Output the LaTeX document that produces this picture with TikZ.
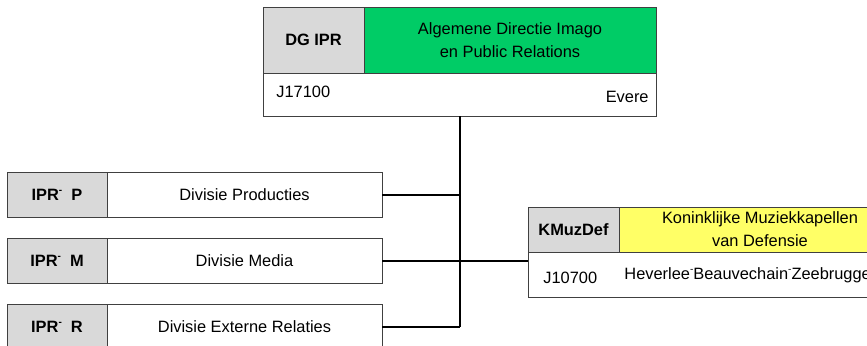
\documentclass[tikz,border=0pt]{standalone}
\usepackage{fontspec}
\setmainfont{Liberation Sans}
\usetikzlibrary{positioning}
\definecolor{cellgray}{RGB}{217,217,217}
\definecolor{dggreen}{RGB}{0,204,102}
\definecolor{kmyellow}{RGB}{255,255,102}
\newcommand{\updash}{\raisebox{0.8ex}{\tiny-}}

\begin{document}
\begin{tikzpicture}[x=0.5pt, y=-0.5pt,
  cell/.style={draw=black!75, line width=0.5pt, inner sep=0pt, outer sep=0pt, anchor=north west, align=center, font=\fontsize{8.2}{11.5}\selectfont},
  codecell/.style={cell, fill=cellgray, font=\fontsize{8.2}{11.5}\selectfont\bfseries},
  txt/.style={inner sep=0pt, font=\fontsize{8.2}{10}\selectfont},
  conn/.style={line width=1pt}]
\clip (0,0) rectangle (867,345);

% directie
\node[codecell, minimum width=50.5pt, minimum height=33pt] (dgcode) at (263,7) {DG IPR};
\node[cell, fill=dggreen, minimum width=146pt, minimum height=33pt] (dgname) at (dgcode.north east) {Algemene Directie Imago\\en Public Relations};
\node[cell, minimum width=196.5pt, minimum height=21.5pt] (dgloc) at (dgcode.south west) {};
\node[txt, anchor=west] (dgnum) at (276,92) {J17100};
\node[txt, anchor=east] (dgcity) at (649,97) {Evere};

% divisies
\node[codecell, minimum width=50pt, minimum height=22.5pt] (prcode) at (7,172) {IPR\updash\ \ P};
\node[cell, minimum width=137.5pt, minimum height=22.5pt] (prname) at (prcode.north east) {Divisie Producties};
\node[codecell, minimum width=50pt, minimum height=22.5pt] (mdcode) at (7,238) {IPR\updash\ \ M};
\node[cell, minimum width=137.5pt, minimum height=22.5pt] (mdname) at (mdcode.north east) {Divisie Media};
\node[codecell, minimum width=50pt, minimum height=22.5pt] (rlcode) at (7,304) {IPR\updash\ \ R};
\node[cell, minimum width=137.5pt, minimum height=22.5pt] (rlname) at (rlcode.north east) {Divisie Externe Relaties};

% muziekkapellen
\node[codecell, minimum width=45.5pt, minimum height=22.5pt] (kmcode) at (528,207) {KMuzDef};
\node[cell, fill=kmyellow, minimum width=141pt, minimum height=22.5pt] (kmname) at (kmcode.north east) {Koninklijke Muziekkapellen\\van Defensie};
\node[cell, minimum width=186.5pt, minimum height=22.5pt] (kmloc) at (kmcode.south west) {};
\node[txt, anchor=west] (kmnum) at (543,278) {J10700};
\node[txt, anchor=west] (kmcity) at (624,275) {Heverlee\updash Beauvechain\updash Zeebrugge};

% lijnen
\draw[conn] (dgloc.south) -- (dgloc.south |- rlname.east);
\draw[conn] (prname.east) -- (prname.east -| dgloc.south);
\draw[conn] (mdname.east) -- (mdname.east -| dgloc.south);
\draw[conn] (rlname.east) -- (rlname.east -| dgloc.south);
\draw[conn] (mdname.east -| dgloc.south) -- (kmloc.west |- mdname.east);
\end{tikzpicture}
\end{document}
